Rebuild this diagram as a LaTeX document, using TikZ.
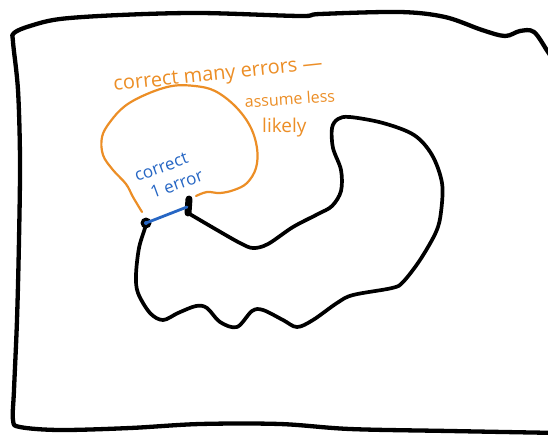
\documentclass[tikz,border=0pt]{standalone}
\usepackage{fontspec}
\setmainfont{Open Sans}
\definecolor{penorange}{RGB}{236,142,38}
\definecolor{penblue}{RGB}{38,102,196}
\begin{document}
\begin{tikzpicture}[x=1pt,y=-1pt,
  frame/.style={line width=4.3pt,line cap=round,line join=round},
  ink/.style={line width=3.7pt,line cap=round,line join=round},
  orangeline/.style={penorange,line width=2.2pt,line cap=round,line join=round},
  blueline/.style={penblue,line width=2.8pt,line cap=round},
  orangetext/.style={text=penorange,inner sep=0pt,font=\fontsize{20}{20}\selectfont},
  bluetext/.style={text=penblue,inner sep=0pt,font=\fontsize{17}{16}\selectfont}]
\useasboundingbox (0,0) rectangle (548,437);
\fill[white] (0,0) rectangle (548,437);
\clip (0,0) rectangle (548,437);
% outer frame
\draw[frame] plot[smooth,tension=0.55] coordinates {
  (560,70) (548,52) (534,32) (520,31) (505,36) (482,30) (445,17) (400,12)
  (320,14) (300,16) (200,13) (120,15) (60,19) (30,26) (14,33) (13,42)
  (18,90) (20,160) (19,240) (17,320) (14,390) (13,420) (20,427) (60,430)
  (130,428) (200,424) (280,424) (350,429) (450,431) (560,433)};
% orange blob
\draw[orangeline] plot[smooth,tension=0.6] coordinates {
  (142,212) (133,197) (126,184) (113,170) (103,155) (102,137) (110,122)
  (125,106) (147,94) (172,86) (195,86) (215,91) (235,106) (250,126)
  (257,148) (256,168) (247,183) (234,190) (220,193) (207,192) (196,196)};
% black loop
\coordinate (dot) at (146,223);
\coordinate (mtop) at (189,199);
\coordinate (mbot) at (188,213);
\draw[ink] plot[smooth,tension=0.55] coordinates {
  (mbot) (217,230) (240,243) (253,248) (268,244) (293,227) (318,214)
  (332,206) (341,191) (341,170) (333,148) (332,128) (338,119) (350,117)
  (383,123) (414,135) (432,155) (442,183) (441,212) (436,232) (420,260)
  (403,282) (392,288) (353,295) (337,303) (313,320) (297,327) (283,320)
  (263,310) (252,311) (237,327) (220,322) (207,308) (196,306) (178,313)
  (163,320) (150,313) (138,293) (136,275) (139,248) (145,228) (dot)};
% thick end mark and dot
\draw[line width=7pt,line cap=round] (mtop) -- (mbot);
\fill (dot) circle (5.5pt);
% blue segment
\draw[blueline] (dot) -- (187,207);
\fill[penblue] (dot) circle (2pt);
% labels
\node[orangetext,anchor=base west,rotate=6] (many) at (114,91) {correct many errors —};
\node[orangetext,anchor=base west,font=\fontsize{16}{16}\selectfont,rotate=4] (less) at (245,108) {assume less};
\node[orangetext,anchor=base west,font=\fontsize{19}{19}\selectfont] (likely) at (262,132) {likely};
\node[bluetext,anchor=base west,rotate=20] (c1) at (137,182) {correct};
\node[bluetext,anchor=base west,rotate=20] (c2) at (153,199) {1 error};
\end{tikzpicture}
\end{document}
